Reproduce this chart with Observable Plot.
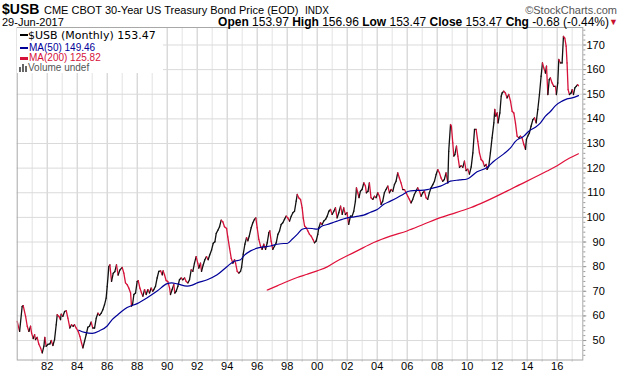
<!DOCTYPE html>
<html><head><meta charset="utf-8">
<script src="https://cdn.jsdelivr.net/npm/d3@7"></script>
<script src="https://cdn.jsdelivr.net/npm/@observablehq/plot@0.6"></script>
<style>
html,body{margin:0;padding:0;background:#fff;}
body{width:620px;height:376px;overflow:hidden;position:relative;font-family:"Liberation Sans",Arial,sans-serif;color:#000;}
.h{position:absolute;white-space:nowrap;line-height:1;z-index:3;}
#chart{position:absolute;left:0;top:26px;z-index:1;}
#legend{position:absolute;left:17px;top:27.5px;width:146px;height:45px;background:#fff;z-index:2;}
.row{position:absolute;left:0;white-space:nowrap;line-height:1;}
.mk{position:absolute;left:3px;width:8px;height:2.5px;}
</style></head>
<body>
<div class="h" style="left:2px;top:2px;font-size:14px;font-weight:bold;">$USB</div>
<div class="h" style="left:44px;top:5px;font-size:11px;">CME CBOT 30-Year US Treasury Bond Price (EOD)</div>
<div class="h" style="left:305px;top:6px;font-size:10px;">INDX</div>
<div class="h" style="right:3px;top:5px;font-size:11px;color:#555;">©StockCharts.com</div>
<div class="h" style="left:2px;top:16.5px;font-size:11px;">29-Jun-2017</div>
<div class="h" style="right:11px;top:15.5px;font-size:12px;"><b>Open</b> 153.97 <b>High</b> 156.96 <b>Low</b> 153.47 <b>Close</b> 153.47 <b>Chg</b> -0.68 (-0.44%)</div>
<div class="h" style="right:2px;top:18px;font-size:9px;color:#c8102e;">▼</div>
<div id="chart"></div>
<div id="legend">
  <div class="row" style="top:2px;font-family:'DejaVu Sans',Verdana,sans-serif;font-size:11px;color:#000;"><span class="mk" style="top:4px;background:#000;"></span><span style="position:absolute;left:11px;">$USB (Monthly) 153.47</span></div>
  <div class="row" style="top:15px;font-size:10px;color:#000099;"><span class="mk" style="top:4px;background:#000099;"></span><span style="position:absolute;left:12px;">MA(50) 149.46</span></div>
  <div class="row" style="top:25.5px;font-size:10px;color:#d6123a;"><span class="mk" style="top:4px;background:#d6123a;"></span><span style="position:absolute;left:12px;">MA(200) 125.82</span></div>
  <div class="row" style="top:35.5px;font-size:10px;color:#555;"><svg style="position:absolute;left:2px;top:1px" width="10" height="8"><rect x="0" y="3" width="2" height="5" fill="#666"/><rect x="3" y="0" width="2" height="8" fill="#666"/><rect x="6" y="2" width="2" height="6" fill="#666"/></svg><span style="position:absolute;left:11px;">Volume undef</span></div>
</div>
<script>
// ---- Data ----
const priceYears = [
1980.00,1980.16,1980.33,1980.40,1980.56,1980.67,1980.78,1980.89,1980.96,1981.07,1981.16,1981.22,1981.33,1981.44,1981.56,1981.67,1981.78,1981.84,1981.93,
1982.04,1982.18,1982.27,1982.38,1982.49,1982.60,1982.67,1982.78,1982.89,1982.93,1983.04,1983.16,1983.27,1983.38,1983.51,1983.62,1983.73,1983.82,1983.93,
1984.07,1984.18,1984.29,1984.38,1984.49,1984.60,1984.71,1984.82,1984.93,1985.04,1985.16,1985.27,1985.38,1985.49,1985.60,1985.71,1985.82,1985.93,
1986.00,1986.11,1986.18,1986.29,1986.40,1986.51,1986.62,1986.73,1986.84,1987.00,1987.11,1987.22,1987.33,1987.44,1987.56,1987.62,1987.69,1987.78,1987.89,
1988.00,1988.07,1988.18,1988.29,1988.38,1988.49,1988.60,1988.71,1988.82,1988.93,1989.04,1989.11,1989.22,1989.33,1989.44,1989.56,1989.67,1989.73,1989.82,1989.93,
1990.04,1990.16,1990.22,1990.33,1990.44,1990.51,1990.60,1990.71,1990.82,1990.93,1991.04,1991.16,1991.27,1991.38,1991.49,1991.60,1991.71,1991.82,1991.93,
1992.04,1992.11,1992.22,1992.29,1992.40,1992.51,1992.62,1992.73,1992.84,1992.96,1993.07,1993.18,1993.27,1993.38,1993.49,1993.60,1993.71,1993.82,1993.96,
1994.04,1994.16,1994.27,1994.38,1994.49,1994.56,1994.67,1994.78,1994.89,1994.96,1995.07,1995.18,1995.29,1995.38,1995.47,1995.60,1995.71,1995.82,1995.91,
1996.00,1996.11,1996.22,1996.33,1996.44,1996.56,1996.67,1996.78,1996.84,1996.93,1997.04,1997.16,1997.27,1997.38,1997.49,1997.60,1997.71,1997.82,1997.93,
1998.04,1998.16,1998.27,1998.38,1998.49,1998.60,1998.67,1998.78,1998.89,1999.00,1999.07,1999.16,1999.27,1999.38,1999.49,1999.60,1999.71,1999.82,1999.93,
2000.04,2000.11,2000.22,2000.33,2000.44,2000.56,2000.67,2000.78,2000.89,2001.00,2001.11,2001.22,2001.33,2001.44,2001.56,2001.67,
2001.77,2001.88,2001.99,2002.10,2002.22,2002.33,2002.44,2002.55,2002.62,2002.71,2002.79,2002.88,2002.99,2003.11,2003.22,2003.28,2003.39,2003.48,2003.59,2003.71,2003.82,2003.93,
2004.04,2004.15,2004.26,2004.37,2004.48,2004.59,2004.71,2004.82,2004.93,2005.04,2005.15,2005.26,2005.37,2005.48,2005.59,2005.71,2005.82,2005.93,
2006.04,2006.15,2006.26,2006.37,2006.48,2006.59,2006.70,2006.82,2006.93,2007.04,2007.15,2007.26,2007.37,2007.48,2007.59,2007.71,2007.82,2007.93,
2008.04,2008.15,2008.26,2008.37,2008.48,2008.59,2008.71,2008.77,2008.89,2008.95,2009.04,2009.11,2009.18,2009.29,2009.38,2009.49,2009.60,2009.71,2009.82,2009.93,
2010.04,2010.15,2010.27,2010.38,2010.49,2010.60,2010.71,2010.82,2010.93,2011.04,2011.15,2011.27,2011.33,2011.44,2011.55,2011.66,2011.78,2011.84,2011.91,
2012.00,2012.06,2012.18,2012.27,2012.33,2012.44,2012.55,2012.66,2012.77,2012.89,2013.00,2013.11,2013.22,2013.33,2013.44,2013.55,2013.66,2013.78,2013.89,2013.95,
2014.04,2014.15,2014.26,2014.38,2014.49,2014.60,2014.71,2014.82,2014.93,2015.02,2015.11,2015.22,2015.29,2015.38,2015.47,2015.55,2015.66,2015.78,2015.89,2015.95,
2016.04,2016.11,2016.22,2016.33,2016.42,2016.51,2016.60,2016.66,2016.73,2016.82,2016.93,2017.00,2017.09,2017.18,2017.27,2017.36,2017.42
];
const priceValues = [
57.8,53.7,63.8,64.2,59.8,55.8,53.7,55.8,53.0,50.8,52.4,50.4,51.3,48.6,47.0,45.0,47.7,51.3,47.7,
48.4,48.6,50.0,48.0,50.4,56.4,60.5,59.8,58.5,60.7,59.8,61.8,62.1,59.1,55.1,56.4,55.8,56.4,55.1,
53.7,51.7,49.0,47.0,49.7,52.4,55.4,55.8,57.5,55.1,55.1,59.1,61.1,60.2,61.1,62.5,64.5,67.2,
71.9,80.0,80.7,74.0,77.3,78.0,80.7,76.6,78.6,79.7,77.4,73.4,72.7,71.3,69.3,64.0,64.6,68.7,69.3,
74.0,74.3,71.3,69.3,68.0,70.7,68.7,70.7,69.3,71.3,70.0,70.7,72.0,75.4,78.1,78.3,76.7,78.3,76.7,74.3,
74.0,71.3,68.7,70.7,72.7,69.3,70.0,72.0,74.7,75.4,74.7,75.4,74.0,73.4,74.7,78.7,78.1,81.4,84.1,
81.4,79.4,81.4,78.1,80.7,82.8,84.1,82.8,84.8,86.8,89.5,90.1,93.5,94.8,96.2,98.9,98.2,96.2,95.5,
92.1,87.4,83.4,81.4,82.8,81.4,78.1,77.4,78.1,79.7,85.1,89.1,91.8,90.5,92.4,95.8,97.8,99.2,99.8,
95.8,91.1,88.4,87.0,89.1,87.0,89.7,93.8,94.5,90.4,87.0,88.4,89.7,93.1,94.5,97.1,97.8,99.2,100.5,
99.8,98.5,100.5,101.9,102.5,106.6,109.3,107.9,107.3,103.9,99.8,96.5,95.8,94.5,93.1,92.4,91.1,89.7,90.4,
93.1,95.8,97.8,97.1,98.5,99.2,100.5,102.5,103.2,101.2,102.5,103.9,99.8,101.9,104.6,101.2,
103.9,101.2,101.9,97.2,100.5,100.5,102.5,106.6,112.0,110.0,108.0,110.6,111.3,114.0,112.7,110.0,110.6,114.0,108.0,107.3,108.6,108.0,
110.0,108.6,105.3,106.6,110.0,111.3,112.7,110.0,111.3,110.6,113.3,114.7,118.1,116.0,114.0,111.3,111.3,110.0,
108.6,107.3,105.9,107.3,109.3,110.6,112.0,110.6,108.6,110.0,110.6,108.0,107.3,110.0,112.0,113.3,114.7,117.4,
119.4,118.1,116.0,114.7,115.4,118.1,114.0,126.8,137.7,137.0,130.3,124.9,125.5,128.9,124.9,120.3,121.0,120.3,122.8,119.0,
119.6,117.6,120.5,126.2,135.7,135.7,130.9,126.2,123.5,122.8,120.8,121.5,119.5,120.8,126.2,132.3,138.4,143.8,141.1,
142.4,138.4,142.4,149.2,150.5,151.2,150.5,148.5,149.9,147.2,143.1,142.4,138.4,133.0,132.3,133.0,132.3,129.6,127.6,131.6,
133.0,134.3,137.0,139.7,140.4,138.4,143.8,149.9,157.3,162.7,160.7,158.6,161.4,149.9,155.9,156.6,154.6,153.2,153.2,149.9,
154.6,164.1,162.7,162.7,173.5,172.8,169.5,162.7,151.9,149.9,150.5,151.9,149.9,152.6,153.2,153.9,153.47
];
const ma50Years = [1984.11,1984.5,1985.0,1985.5,1986.0,1986.33,1986.67,1987.0,1987.33,1988.0,1988.67,1989.33,1990.0,1990.3,1990.67,1991.33,1991.67,1992.0,1992.67,1993.33,1994.0,1994.44,1994.89,1995.11,1995.56,1996.0,1996.44,1996.89,1997.33,1997.78,1998.0,1998.33,1998.67,1999.0,1999.33,1999.67,2000.0,2000.33,2000.67,2001.0,2001.33,2001.67,2002.0,2002.33,2002.77,2003.1,2003.55,2004.0,2004.44,2004.88,2005.33,2005.77,2006.1,2006.44,2006.88,2007.33,2007.77,2008.22,2008.66,2008.88,2009.5,2010.0,2010.66,2011.33,2011.78,2012.44,2012.89,2013.22,2013.78,2014.11,2014.55,2014.89,2015.22,2015.55,2015.89,2016.33,2016.66,2017.0,2017.42];
const ma50Values = [54.2,53.3,52.9,54.0,55.9,58.5,60.3,62.0,63.4,65.0,67.4,70.1,73.1,73.4,73.0,72.1,72.5,73.4,74.7,76.7,80.1,82.1,82.8,84.4,86.4,87.5,88.0,88.4,89.1,89.4,89.4,91.1,93.1,95.2,95.6,95.5,95.2,96.5,97.1,97.8,98.5,99.2,99.8,100.1,100.5,100.9,102.1,103.2,105.3,106.6,108.0,109.5,110.6,110.9,111.0,111.3,112.0,112.7,114.0,114.7,115.2,115.6,118.5,120.3,122.8,125.8,128.2,130.9,133.0,135.0,136.6,138.4,141.1,143.0,145.4,147.2,148.1,148.5,149.46];
const ma200Years = [1996.67,1997.33,1998.0,1998.67,1999.33,2000.0,2000.67,2001.33,2002.0,2002.66,2003.77,2004.88,2005.99,2007.1,2008.21,2008.88,2010.22,2013.55,2015.33,2016.0,2016.66,2017.42];
const ma200Values = [70.5,72.2,74.0,75.6,76.9,78.3,79.9,82.3,84.4,86.4,89.8,92.4,94.5,97.2,99.9,101.2,103.9,113.4,118.8,121.0,123.5,125.82];
const yTickValues = [50,60,70,80,90,100,110,120,130,140,150,160,170];
const xTickYears = [1982,1984,1986,1988,1990,1992,1994,1996,1998,2000,2002,2004,2006,2008,2010,2012,2014,2016];
const xTickLabels = ["82","84","86","88","90","92","94","96","98","00","02","04","06","08","10","12","14","16"];

// ---- Styling ----
const UP = "#111111", DOWN = "#d6123a", NAVY = "#000099", RED = "#e0103a";

const segs = [];
for (let i = 0; i < priceYears.length - 1; i++) {
  segs.push({x1: priceYears[i], y1: priceValues[i], x2: priceYears[i+1], y2: priceValues[i+1],
             c: priceValues[i+1] >= priceValues[i] ? UP : DOWN});
}
const ma50 = ma50Years.map((t, i) => ({t, v: ma50Values[i]}));
const ma200 = ma200Years.map((t, i) => ({t, v: ma200Values[i]}));
const allYears = d3.range(1981, 2018);
const oddYears = allYears.filter(y => y % 2 === 1);
const evenYears = allYears.filter(y => y % 2 === 0);
const minorY = d3.range(44, 178, 2);

const chart = Plot.plot({
  width: 620, height: 350,
  marginTop: 1, marginBottom: 16.5, marginLeft: 16.7, marginRight: 37.7,
  x: {domain: [1980, 2017.71]},
  y: {domain: [42.1, 177.1]},
  style: {fontFamily: "'Liberation Sans', Arial, sans-serif", fontSize: "11px", background: "transparent", color: "#000", overflow: "visible"},
  marks: [
    Plot.ruleX(oddYears, {stroke: "#e3e3e3", strokeOpacity: 1}),
    Plot.ruleX(evenYears, {stroke: "#c9c9c9", strokeOpacity: 1}),
    Plot.ruleY(yTickValues, {stroke: "#dadada", strokeOpacity: 1}),
    Plot.link(segs, {x1: "x1", y1: "y1", x2: "x2", y2: "y2", stroke: "c", strokeWidth: 1.3, strokeLinecap: "round"}),
    Plot.line(ma200, {x: "t", y: "v", stroke: RED, strokeWidth: 1.2, curve: "monotone-x"}),
    Plot.line(ma50, {x: "t", y: "v", stroke: NAVY, strokeWidth: 1.2, curve: "monotone-x"}),
    Plot.frame({stroke: "#a8a8a8"}),
    Plot.axisY(minorY, {anchor: "right", tickSize: 2, tickFormat: () => "", stroke: "#999", label: null}),
    Plot.axisY(yTickValues, {anchor: "right", tickSize: 3, tickFormat: () => "", stroke: "#999", label: null}),
    Plot.text(yTickValues, {y: d => d, text: d => String(d), frameAnchor: "right", dx: 22, textAnchor: "end", fill: "#000", fontSize: 11}),
    Plot.text(xTickYears, {x: d => d, text: (d, i) => xTickLabels[i], frameAnchor: "bottom", dy: 9.5, textAnchor: "middle", fill: "#000", fontSize: 11}),
    Plot.axisX(allYears, {anchor: "bottom", tickSize: 2, tickFormat: () => "", stroke: "#bbb", label: null})
  ]
});
document.getElementById("chart").appendChild(chart);
</script>
</body></html>
